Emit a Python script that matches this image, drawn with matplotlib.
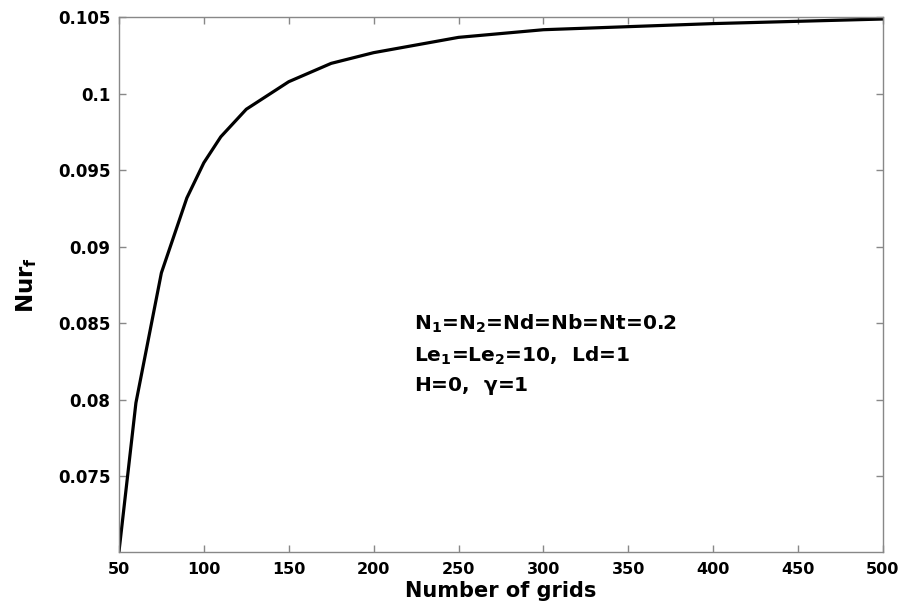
import numpy as np
import matplotlib
matplotlib.use("Agg")
import matplotlib.pyplot as plt

plt.rcParams['font.family'] = ['DejaVu Sans']
plt.rcParams['font.weight'] = 'bold'
plt.rcParams['mathtext.fontset'] = 'custom'
plt.rcParams['mathtext.rm'] = 'DejaVu Sans:bold'
plt.rcParams['mathtext.bf'] = 'DejaVu Sans:bold'
plt.rcParams['mathtext.it'] = 'DejaVu Sans:italic'
plt.rcParams['mathtext.default'] = 'rm'

# grid size vs Nusselt number
grids = [50, 60, 75, 90, 100, 110, 125, 150, 175, 200, 250, 300, 400, 500]
nur = [0.07005, 0.0798, 0.0883, 0.0932, 0.0955, 0.0972, 0.0990, 0.1008,
       0.1020, 0.1027, 0.1037, 0.1042, 0.1046, 0.1049]

xticks = [50, 100, 150, 200, 250, 300, 350, 400, 450, 500]
yticks = [0.075, 0.08, 0.085, 0.09, 0.095, 0.1, 0.105]
ytick_labels = ['0.075', '0.08', '0.085', '0.09', '0.095', '0.1', '0.105']

notes = ['N$_1$=N$_2$=Nd=Nb=Nt=0.2',
         'Le$_1$=Le$_2$=10,  Ld=1',
         r'H=0,  $\gamma$=1']

fig = plt.figure(figsize=(9.01, 6.05), dpi=100)
ax = fig.add_axes([0.132, 0.0876, 0.848, 0.8835])

ax.plot(grids, nur, color='black', lw=2.3)

ax.set_xlim(50, 500)
ax.set_ylim(0.07005, 0.105)
ax.set_xticks(xticks)
ax.set_yticks(yticks)
ax.set_yticklabels(ytick_labels)

for s in ax.spines.values():
    s.set_color('#888888')
    s.set_linewidth(1.0)
ax.tick_params(direction='in', top=True, right=True, color='#888888',
               length=5, width=1)
ax.tick_params(axis='y', labelsize=12, pad=6)
ax.tick_params(axis='x', labelsize=11.5, pad=7)

ax.set_xlabel('Number of grids', fontsize=15, fontweight='bold', labelpad=3)
ax.set_ylabel('Nur$_f$', fontsize=16.5, fontweight='bold', labelpad=14)

ny = [0.08497, 0.08286, 0.08089]
for t, yy in zip(notes, ny):
    ax.text(224, yy, t, fontsize=14.5, fontweight='bold', va='center', ha='left')

fig.savefig('out.png', dpi=100)
